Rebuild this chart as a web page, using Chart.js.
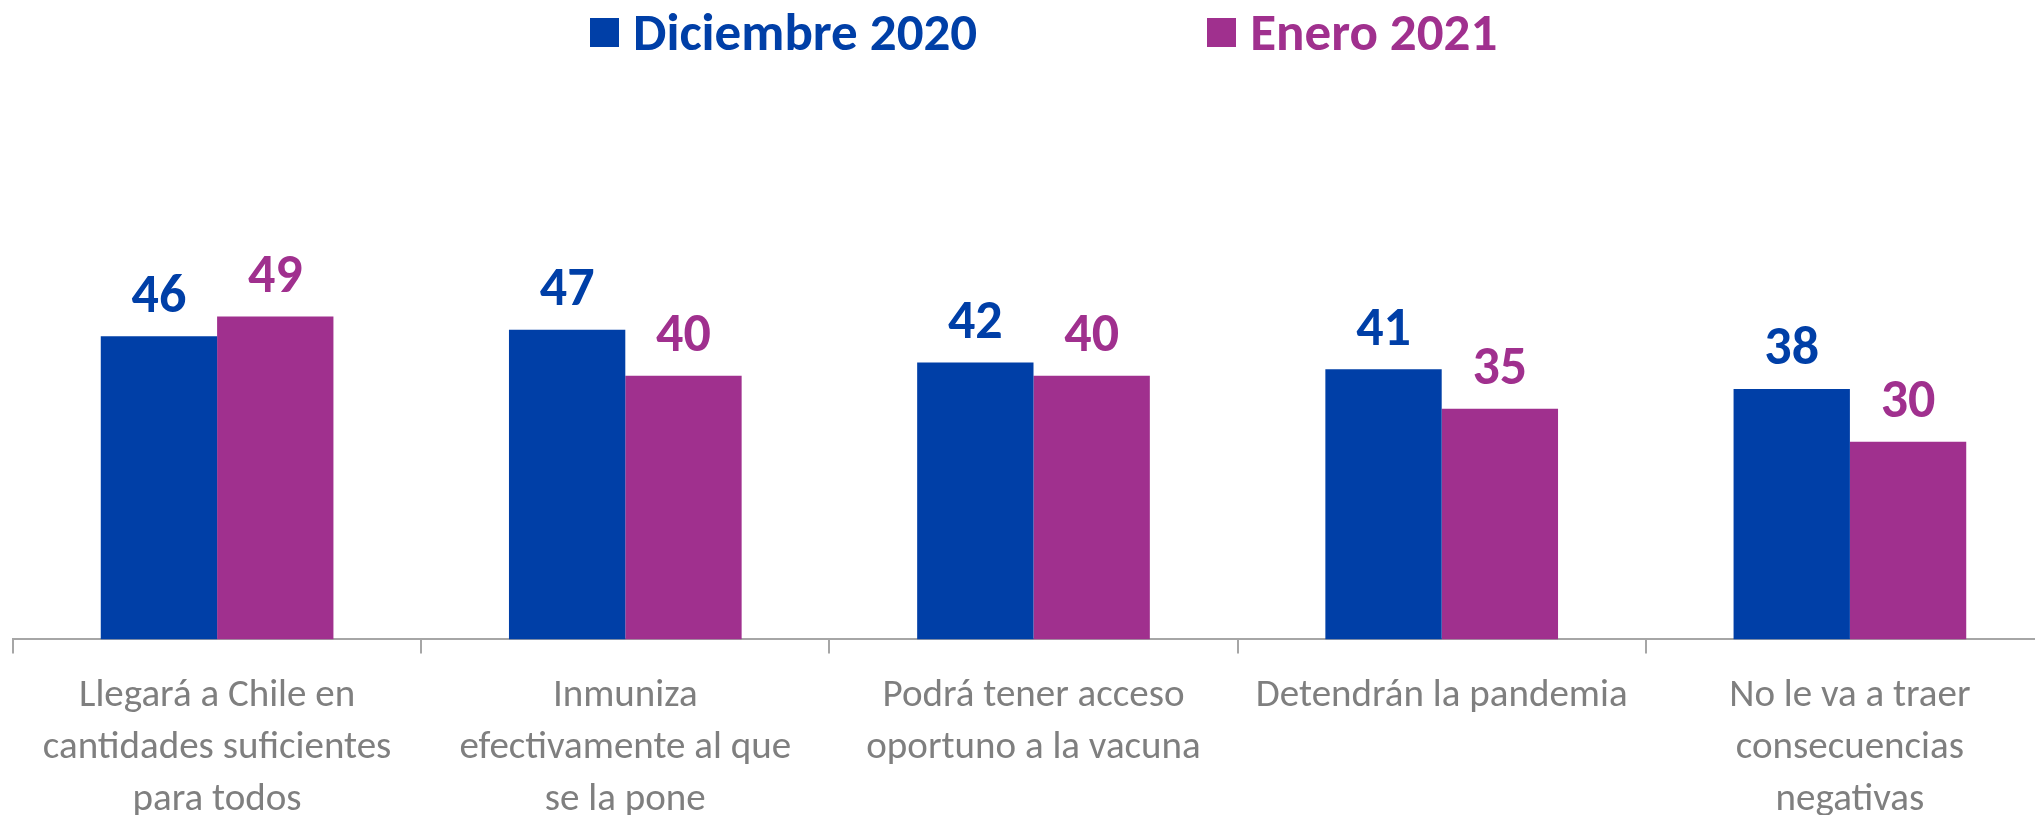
<!DOCTYPE html>
<html>
<head>
<meta charset="utf-8">
<script src="https://cdn.jsdelivr.net/npm/chart.js@4/dist/chart.umd.min.js"></script>
<style>
  html, body { margin: 0; padding: 0; background: #fff; overflow: hidden; }
  #wrap { position: relative; width: 2054px; height: 843px; }
  #chart { display: block; }
  #legend {
    position: absolute; top: 6px; left: 590px;
    display: flex; gap: 230px;
    font-family: Carlito, 'Liberation Sans Narrow', 'Open Sans', sans-serif;
    font-weight: bold; font-size: 53px; line-height: 53px;
  }
  .item { display: flex; align-items: center; }
  .box { width: 29px; height: 29px; margin-right: 14px; }
</style>
</head>
<body>
<div id="wrap">
  <canvas id="chart" width="2054" height="843"></canvas>
  <div id="legend"></div>
</div>
<script>
const categories = [
  ['Llegará a Chile en', 'cantidades suficientes', 'para todos'],
  ['Inmuniza', 'efectivamente al que', 'se la pone'],
  ['Podrá tener acceso', 'oportuno a la vacuna'],
  ['Detendrán la pandemia'],
  ['No le va a traer', 'consecuencias', 'negativas']
];
const seriesNames = ['Diciembre 2020', 'Enero 2021'];
const dic2020 = [46, 47, 42, 41, 38];
const ene2021 = [49, 40, 40, 35, 30];
const colors = ['#003fa7', '#a0308e'];

const FONT = "Carlito, 'Liberation Sans Narrow', 'Open Sans', sans-serif";

const valueLabels = {
  id: 'valueLabels',
  afterDatasetsDraw(chart) {
    const ctx = chart.ctx;
    ctx.save();
    ctx.font = `bold 54px ${FONT}`;
    ctx.textAlign = 'center';
    ctx.textBaseline = 'middle';
    chart.data.datasets.forEach((ds, i) => {
      ctx.fillStyle = ds.backgroundColor;
      chart.getDatasetMeta(i).data.forEach((bar, j) => {
        ctx.fillText(String(ds.data[j]), bar.x, bar.y - 38);
      });
    });
    ctx.restore();
  }
};

const chart = new Chart(document.getElementById('chart'), {
  type: 'bar',
  data: {
    labels: categories,
    datasets: [
      { label: seriesNames[0], data: dic2020, backgroundColor: colors[0] },
      { label: seriesNames[1], data: ene2021, backgroundColor: colors[1] }
    ]
  },
  options: {
    responsive: false,
    animation: false,
    layout: { padding: { top: 244, left: 13, right: 0, bottom: 0 } },
    datasets: { bar: { categoryPercentage: 0.57, barPercentage: 1 } },
    plugins: {
      legend: { display: false },
      tooltip: { enabled: false }
    },
    scales: {
      x: {
        grid: {
          display: true,
          drawOnChartArea: false,
          drawTicks: true,
          tickLength: 14,
          color: '#a6a6a6',
          lineWidth: 2
        },
        border: { display: true, color: '#a6a6a6', width: 2 },
        ticks: {
          color: '#7f7f7f',
          padding: 17,
          maxRotation: 0,
          autoSkip: false,
          font: { family: FONT, size: 39, lineHeight: 1.33 }
        }
      },
      y: {
        display: false,
        min: 0,
        max: 60
      }
    }
  },
  plugins: [valueLabels]
});

const legend = document.getElementById('legend');
chart.data.datasets.forEach((ds) => {
  const item = document.createElement('div');
  item.className = 'item';
  item.style.color = ds.backgroundColor;
  const box = document.createElement('span');
  box.className = 'box';
  box.style.background = ds.backgroundColor;
  item.appendChild(box);
  item.appendChild(document.createTextNode(ds.label));
  legend.appendChild(item);
});
</script>
</body>
</html>
